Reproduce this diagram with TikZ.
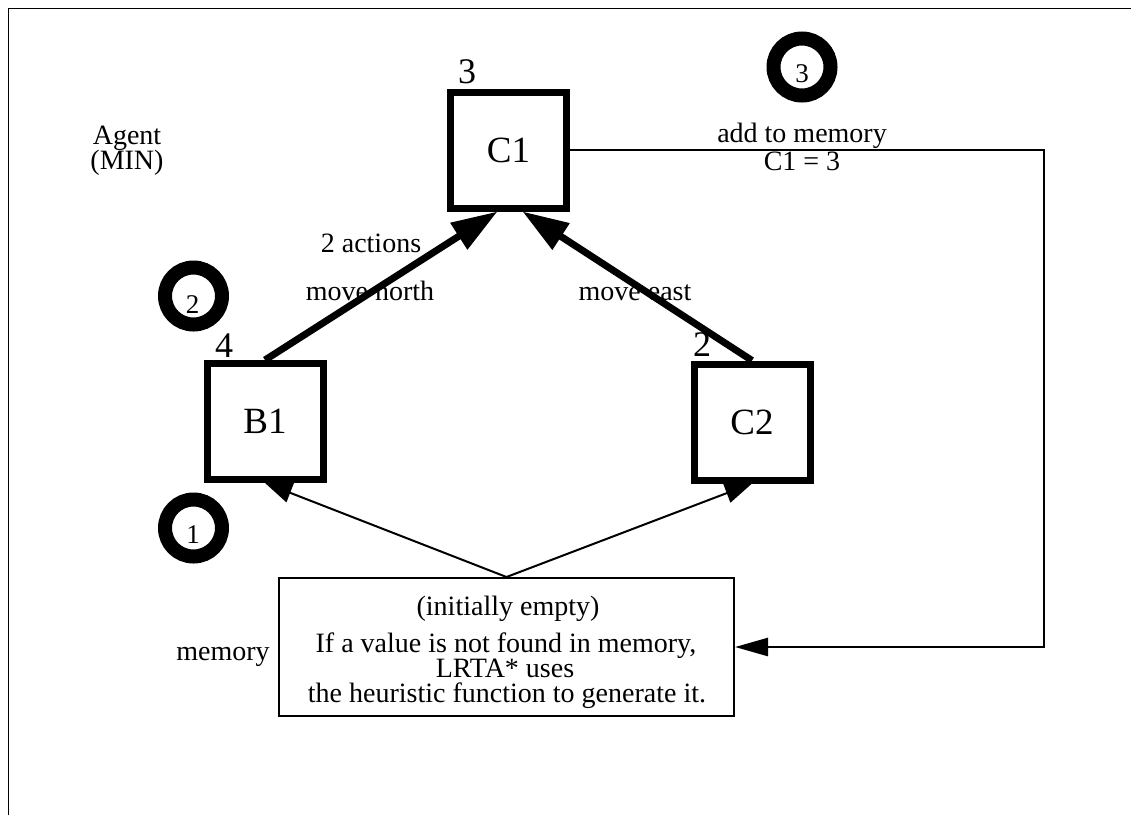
\documentclass[tikz,border=0pt]{standalone}
\usepackage{fontspec}
\setmainfont{Liberation Serif}
\usetikzlibrary{arrows.meta,calc}
\tikzset{
  statebox/.style={draw, line width=7pt, minimum size=116pt, inner sep=0pt, font=\fontsize{37}{40}\selectfont},
  ring/.style={circle, draw, line width=14pt, minimum size=57pt, inner sep=0pt},
  txt/.style={anchor=base, inner sep=0pt, font=\fontsize{28}{25}\selectfont},
  numtxt/.style={anchor=base, inner sep=0pt, font=\fontsize{27}{30}\selectfont},
  bigtxt/.style={anchor=base, inner sep=0pt, font=\fontsize{36}{40}\selectfont},
  bigarrow/.style={line width=7pt, -{Triangle[length=46pt,width=30pt]}},
  smallarrow/.style={line width=2pt, -{Triangle[length=27pt,width=20pt]}},
  memarrow/.style={line width=2.5pt, -{Triangle[length=33pt,width=18pt]}},
  membox/.style={draw, line width=2pt, minimum width=455pt, minimum height=138pt, inner sep=0pt},
}
\begin{document}
\begin{tikzpicture}[x=1pt,y=-1pt]
\useasboundingbox (0,0) rectangle (1131,815);
% frame
\draw[line width=1.6pt] (8.5,815) -- (8.5,8.5) -- (1131,8.5);

% states
\node[statebox] (C1) at (508.5,150) {C1};
\node[statebox] (B1) at (265,421.5) {B1};
\node[statebox] (C2) at (752,422) {C2};
\node[membox] (mem) at (506.5,647) {};

% values
\node[bigtxt] (v3) at (467,83) {3};
\node[bigtxt] (v4) at (224,357) {4};
\node[bigtxt] (v2) at (702,356) {2};

% rings
\node[ring] (r1) at (193.5,528) {};
\node[ring] (r2) at (193.5,296) {};
\node[ring] (r3) at (802,67) {};
\node[numtxt] (n1) at (193,543) {1};
\node[numtxt] (n2) at (192.5,313) {2};
\node[numtxt] (n3) at (802,82) {3};

% texts
\node[txt] (ag1) at (127,144) {Agent};
\node[txt] (ag2) at (127,169) {(MIN)};
\node[txt] (memlab) at (223,660) {memory};
\node[txt] (m1) at (508,615) {(initially empty)};
\node[txt] (m2) at (506,652) {If a value is not found in memory,};
\node[txt] (m3) at (505,677) {LRTA* uses};
\node[txt] (m4) at (507,702) {the heuristic function to generate it.};
\node[txt] (l1) at (371,252) {2 actions};
\node[txt] (l2) at (370,300) {move north};
\node[txt] (l3) at (635,300) {move east};
\node[txt] (l4) at (802,142) {add to memory};
\node[txt] (l5) at (802,170) {C1 = 3};

% connectors
\draw[bigarrow] (B1.north) -- ($(C1.south)+(-11,0)$);
\draw[bigarrow] (C2.north) -- ($(C1.south)+(14,0)$);
\draw[smallarrow] (mem.north) -- (B1.south);
\draw[smallarrow] (mem.north) -- (C2.south);
\coordinate (turn) at (1044,150);
\draw[memarrow] (C1.east) -- (turn) |- (mem.east);
\end{tikzpicture}
\end{document}
